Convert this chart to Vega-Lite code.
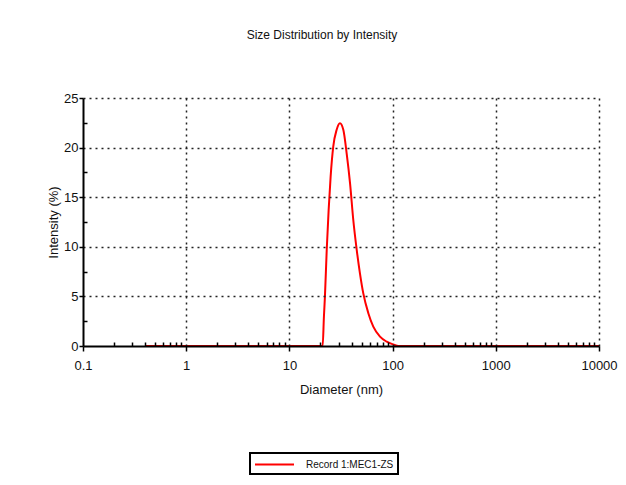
{
  "$schema": "https://vega.github.io/schema/vega-lite/v6.json",
  "autosize": "none",
  "width": 516,
  "height": 248,
  "padding": {"left": 83, "top": 98, "right": 27, "bottom": 139},
  "background": "white",
  "title": {
    "text": "Size Distribution by Intensity",
    "anchor": "middle",
    "frame": "group",
    "dx": -19,
    "offset": 41,
    "baseline": "alphabetic",
    "font": "Liberation Sans",
    "fontSize": 12,
    "fontWeight": "normal",
    "color": "#111"
  },
  "data": {
    "values": [
      {"d": 0.4, "v": 0, "s": "Record 1:MEC1-ZS"},
      {"d": 21.0, "v": 0, "s": "Record 1:MEC1-ZS"},
      {"d": 21.6, "v": 2.95, "s": "Record 1:MEC1-ZS"},
      {"d": 22.1, "v": 5.0, "s": "Record 1:MEC1-ZS"},
      {"d": 23.0, "v": 9.7, "s": "Record 1:MEC1-ZS"},
      {"d": 24.0, "v": 13.7, "s": "Record 1:MEC1-ZS"},
      {"d": 25.1, "v": 17.1, "s": "Record 1:MEC1-ZS"},
      {"d": 26.6, "v": 20.1, "s": "Record 1:MEC1-ZS"},
      {"d": 28.7, "v": 21.8, "s": "Record 1:MEC1-ZS"},
      {"d": 30.9, "v": 22.45, "s": "Record 1:MEC1-ZS"},
      {"d": 33.3, "v": 21.8, "s": "Record 1:MEC1-ZS"},
      {"d": 35.9, "v": 19.4, "s": "Record 1:MEC1-ZS"},
      {"d": 38.7, "v": 16.4, "s": "Record 1:MEC1-ZS"},
      {"d": 41.6, "v": 12.7, "s": "Record 1:MEC1-ZS"},
      {"d": 44.9, "v": 9.7, "s": "Record 1:MEC1-ZS"},
      {"d": 48.3, "v": 7.3, "s": "Record 1:MEC1-ZS"},
      {"d": 52.0, "v": 5.3, "s": "Record 1:MEC1-ZS"},
      {"d": 58.2, "v": 3.3, "s": "Record 1:MEC1-ZS"},
      {"d": 65.0, "v": 1.95, "s": "Record 1:MEC1-ZS"},
      {"d": 75.5, "v": 0.94, "s": "Record 1:MEC1-ZS"},
      {"d": 87.7, "v": 0.43, "s": "Record 1:MEC1-ZS"},
      {"d": 101.6, "v": 0.15, "s": "Record 1:MEC1-ZS"},
      {"d": 114, "v": 0, "s": "Record 1:MEC1-ZS"},
      {"d": 10000, "v": 0, "s": "Record 1:MEC1-ZS"}
    ]
  },
  "mark": {"type": "line", "strokeWidth": 2, "clip": false, "interpolate": "monotone"},
  "encoding": {
    "x": {
      "field": "d",
      "type": "quantitative",
      "title": "Diameter (nm)",
      "scale": {"type": "log", "domain": [0.1, 10000], "nice": false},
      "axis": {
        "values": [0.1,0.2,0.3,0.4,0.5,0.6,0.7,0.8,0.9,1,2,3,4,5,6,7,8,9,10,20,30,40,50,60,70,80,90,100,200,300,400,500,600,700,800,900,1000,2000,3000,4000,5000,6000,7000,8000,9000,10000],
        "labelExpr": "abs(log(datum.value)/LN10 - round(log(datum.value)/LN10)) < 0.001 ? format(datum.value, '~g') : ''",
        "labelFlush": false,
        "labelOverlap": false,
        "gridOpacity": {"condition": {"test": "abs(log(datum.value)/LN10 - round(log(datum.value)/LN10)) < 0.001 && datum.value > 0.11", "value": 1}, "value": 0},
        "tickSize": {"condition": {"test": "abs(log(datum.value)/LN10 - round(log(datum.value)/LN10)) < 0.001", "value": 5}, "value": -4},
        "labelPadding": 8,
        "titlePadding": 11,
        "zindex": 1
      }
    },
    "y": {
      "field": "v",
      "type": "quantitative",
      "title": "Intensity  (%)",
      "scale": {"domain": [0, 25], "nice": false},
      "axis": {
        "values": [0,2.5,5,7.5,10,12.5,15,17.5,20,22.5,25],
        "labelExpr": "datum.value % 5 == 0 ? datum.label : ''",
        "labelFlush": false,
        "labelOverlap": false,
        "gridOpacity": {"condition": {"test": "datum.value % 5 == 0 && datum.value > 0", "value": 1}, "value": 0},
        "tickSize": {"condition": {"test": "datum.value % 5 == 0", "value": 4}, "value": -4},
        "labelPadding": 1,
        "titlePadding": 3,
        "zindex": 1
      }
    },
    "color": {
      "field": "s",
      "type": "nominal",
      "scale": {"range": ["#ff0000"]},
      "legend": {
        "title": null,
        "orient": "none",
        "legendX": 167,
        "legendY": 355,
        "symbolType": "M-1,0H5",
        "symbolSize": 169,
        "symbolStrokeWidth": 2,
        "labelOffset": 37,
        "labelFont": "Liberation Sans",
        "labelFontSize": 10,
        "labelColor": "#111",
        "padding": 4,
        "strokeColor": "black"
      }
    }
  },
  "config": {
    "view": {"stroke": null},
    "legend": {"strokeWidth": 2},
    "axis": {
      "domainColor": "black",
      "domainWidth": 2,
      "tickColor": "black",
      "tickWidth": 1.5,
      "gridColor": "#222",
      "gridDash": [2, 4],
      "gridWidth": 1.5,
      "labelFont": "Liberation Sans",
      "labelFontSize": 13,
      "labelColor": "#111",
      "labelFontWeight": "normal",
      "titleFont": "Liberation Sans",
      "titleFontSize": 13,
      "titleFontWeight": "normal",
      "titleColor": "#111"
    }
  }
}
